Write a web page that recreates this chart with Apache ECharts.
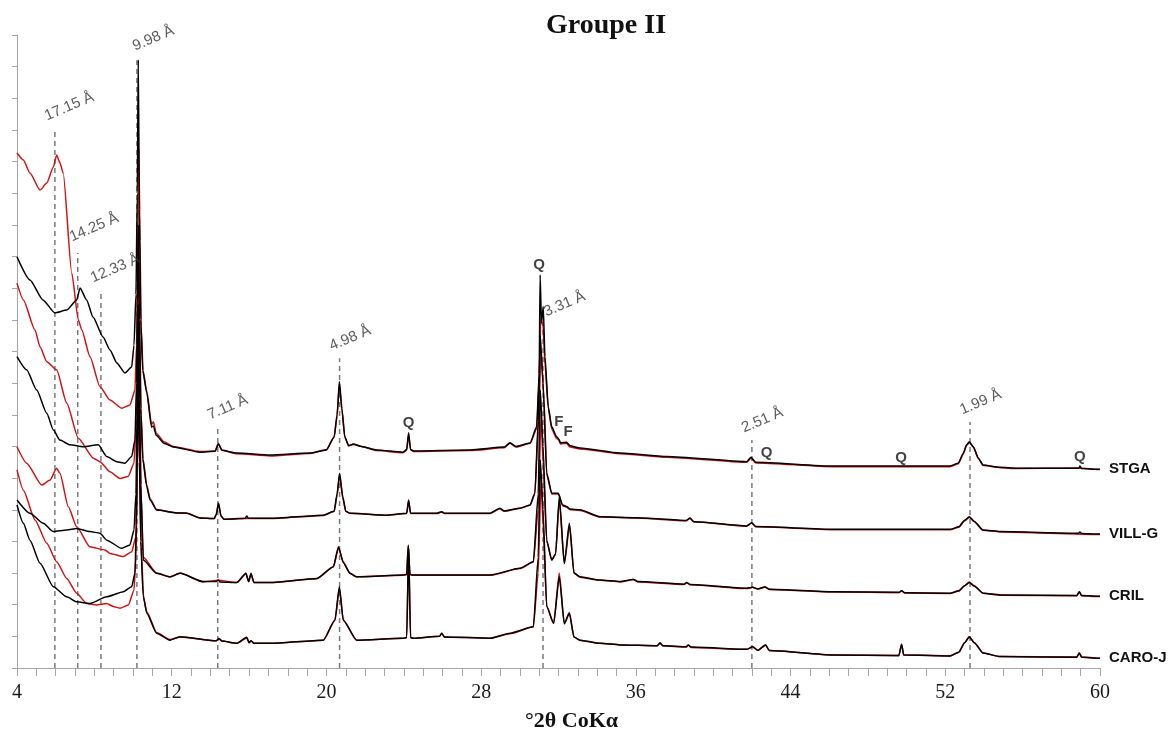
<!DOCTYPE html>
<html><head><meta charset="utf-8">
<script src="https://cdn.jsdelivr.net/npm/echarts/dist/echarts.min.js"></script>
<style>html,body{margin:0;padding:0;background:#fff}#c{width:1173px;height:738px}</style>
</head><body><div id="c"></div>
<script>
// ---- data: [2θ (°, CoKα), intensity (offset, arbitrary units)] ----
const stgaRed = [[4.0,16.27],[4.33,16.05],[4.67,15.64],[5.19,15.10],[5.54,15.32],[5.88,15.83],[6.05,16.21],[6.22,15.96],[6.39,15.63],[6.83,12.48],[7.17,11.0],[7.35,10.68],[7.77,9.84],[8.29,8.89],[8.81,8.47],[9.41,8.21],[9.84,8.31],[10.1,8.78],[10.18,10.2],[10.24,13.0],[10.3,16.4],[10.36,13.5],[10.42,10.8],[10.52,9.4],[10.71,8.75],[10.96,7.7],[11.05,7.78],[11.2,7.42],[11.6,7.15],[12.08,7.0],[13.46,6.84],[14.25,6.86],[14.41,7.1],[14.6,6.88],[15.36,6.77],[17.08,6.7],[19.15,6.78],[20.0,6.9],[20.4,7.3],[20.55,7.95],[20.67,8.95],[20.8,8.15],[20.95,7.3],[21.15,7.03],[21.39,7.06],[21.82,7.0],[22.6,6.87],[23.96,6.8],[24.15,6.88],[24.25,7.38],[24.35,6.9],[24.5,6.84],[27.42,6.87],[29.2,6.96],[29.49,7.1],[29.8,6.98],[30.53,7.1],[30.87,7.55],[31.0,9.0],[31.08,11.06],[31.2,10.8],[31.3,9.6],[31.47,8.2],[31.65,7.55],[31.9,7.25],[32.0,7.22],[32.1,7.08],[32.42,7.1],[32.6,6.98],[33.11,6.92],[35.18,6.77],[37.59,6.66],[41.73,6.5],[41.95,6.63],[42.2,6.48],[46.21,6.36],[52.24,6.36],[52.67,6.45],[52.93,6.76],[53.1,7.03],[53.24,7.12],[53.45,6.98],[53.71,6.62],[53.96,6.4],[54.83,6.33],[55.69,6.3],[58.96,6.32],[59.91,6.27],[60,6.27]];
const stgaBlack = [[4.0,12.99],[4.67,12.26],[5.34,11.63],[5.96,11.22],[6.57,11.31],[7.09,11.63],[7.26,12.01],[7.6,11.63],[7.93,11.09],[8.45,10.46],[8.81,10.05],[9.16,9.64],[9.58,9.32],[9.93,9.51],[10.05,10.2],[10.15,11.8],[10.22,15.0],[10.27,19.21],[10.33,14.5],[10.4,11.0],[10.5,9.4],[10.71,8.69],[10.96,7.61],[11.05,7.65],[11.2,7.35],[11.6,7.1],[12.08,6.98],[13.46,6.82],[14.25,6.85],[14.41,7.08],[14.6,6.88],[15.36,6.79],[17.08,6.73],[19.15,6.79],[20.0,6.89],[20.4,7.3],[20.55,8.0],[20.67,9.05],[20.8,8.2],[20.95,7.3],[21.15,7.02],[21.39,7.08],[21.82,7.0],[22.6,6.89],[23.96,6.82],[24.15,6.9],[24.25,7.43],[24.35,6.9],[24.5,6.86],[27.42,6.89],[29.2,6.98],[29.49,7.12],[29.8,7.0],[30.53,7.11],[30.87,7.62],[31.0,9.3],[31.05,12.42],[31.12,10.9],[31.21,11.42],[31.3,9.84],[31.47,8.26],[31.65,7.62],[31.9,7.31],[32.0,7.25],[32.1,7.12],[32.42,7.13],[32.6,7.02],[33.11,6.95],[35.18,6.79],[37.59,6.68],[41.73,6.52],[41.95,6.66],[42.2,6.5],[46.21,6.38],[52.24,6.38],[52.67,6.47],[52.93,6.78],[53.1,7.05],[53.24,7.15],[53.45,6.99],[53.71,6.63],[53.96,6.41],[54.83,6.34],[55.69,6.31],[58.9,6.31],[58.96,6.38],[59.05,6.3],[59.91,6.28],[60,6.28]];
const villRed = [[4.0,12.16],[4.33,11.63],[4.93,10.68],[5.19,10.15],[5.54,9.68],[6.05,9.42],[6.57,8.37],[7.17,7.26],[7.95,6.63],[8.29,6.52],[8.81,6.2],[9.32,5.99],[9.75,6.05],[10.05,6.47],[10.15,7.5],[10.22,9.5],[10.29,13.2],[10.35,10.5],[10.42,8.0],[10.52,6.6],[10.71,5.78],[10.88,5.35],[11.22,5.01],[12.26,4.9],[12.77,4.9],[13.46,4.74],[14.2,4.72],[14.3,4.85],[14.42,5.18],[14.55,4.8],[14.7,4.7],[15.88,4.72],[17.08,4.72],[19.84,4.82],[20.4,4.95],[20.55,5.45],[20.68,6.1],[20.85,5.35],[21.0,4.95],[21.22,4.89],[23.12,4.83],[24.15,4.88],[24.25,5.28],[24.35,4.88],[25.7,4.88],[25.96,4.93],[26.1,4.88],[28.46,4.88],[28.97,5.03],[29.2,4.95],[30.01,5.05],[30.53,5.14],[30.78,5.5],[30.95,7.5],[31.1,10.0],[31.25,8.5],[31.39,6.1],[31.65,5.5],[31.99,5.5],[32.21,5.13],[32.42,5.08],[32.6,5.0],[33.11,4.98],[34.15,4.77],[36.0,4.74],[38.6,4.65],[38.8,4.72],[39.0,4.62],[41.73,4.48],[41.99,4.58],[42.2,4.46],[46.21,4.37],[52.24,4.37],[52.7,4.45],[53.0,4.65],[53.24,4.76],[53.5,4.62],[53.95,4.35],[54.83,4.3],[59.9,4.22],[60,4.22]];
const villBlack = [[4.0,9.84],[4.5,9.42],[5.02,8.78],[5.54,8.05],[5.88,7.52],[6.22,7.2],[6.74,7.05],[7.43,6.99],[8.2,7.05],[8.64,6.68],[9.16,6.52],[9.58,6.47],[9.93,6.68],[10.1,7.2],[10.18,9.0],[10.23,11.5],[10.27,14.0],[10.33,11.0],[10.4,8.2],[10.5,6.6],[10.71,5.73],[10.88,5.31],[11.22,4.99],[12.26,4.9],[12.77,4.89],[13.46,4.74],[14.2,4.72],[14.3,4.85],[14.42,5.21],[14.55,4.8],[14.7,4.7],[15.8,4.73],[15.88,4.8],[15.96,4.73],[17.08,4.73],[19.84,4.83],[20.4,4.95],[20.55,5.5],[20.68,6.15],[20.85,5.4],[21.0,4.95],[21.22,4.89],[23.12,4.83],[24.15,4.89],[24.25,5.31],[24.35,4.89],[25.7,4.89],[25.96,4.94],[26.1,4.89],[28.46,4.89],[28.97,5.05],[29.2,4.96],[30.01,5.05],[30.53,5.15],[30.78,5.53],[30.95,7.8],[31.06,10.5],[31.2,9.0],[31.39,6.16],[31.65,5.53],[31.99,5.52],[32.21,5.15],[32.42,5.1],[32.6,5.02],[33.11,5.0],[34.15,4.78],[36.0,4.75],[38.6,4.66],[38.8,4.74],[39.0,4.62],[41.73,4.49],[41.99,4.59],[42.2,4.47],[46.21,4.38],[52.24,4.38],[52.7,4.46],[53.0,4.67],[53.24,4.78],[53.5,4.63],[53.95,4.36],[54.83,4.31],[58.9,4.26],[58.96,4.3],[59.05,4.25],[59.9,4.23],[60,4.23]];
const crilRed = [[4.0,6.99],[4.5,6.47],[5.28,5.78],[5.71,5.94],[6.05,6.31],[6.22,6.15],[6.65,5.1],[7.09,4.46],[7.77,3.83],[8.55,3.73],[8.81,3.62],[9.5,3.52],[9.93,3.67],[10.15,4.15],[10.22,6.5],[10.29,11.0],[10.35,8.0],[10.42,5.5],[10.53,3.5],[11.22,3.0],[11.91,2.88],[12.43,3.0],[13.63,2.72],[14.41,2.77],[15.36,2.7],[15.84,2.97],[15.98,2.73],[16.1,2.97],[16.25,2.7],[17.08,2.7],[19.5,2.82],[20.36,3.2],[20.62,3.78],[20.88,3.34],[21.22,2.99],[21.56,2.88],[23.97,2.93],[24.15,2.95],[24.23,3.85],[24.32,2.95],[24.45,2.93],[28.46,2.93],[30.01,3.14],[30.7,3.35],[30.95,5.0],[31.1,8.0],[31.2,6.5],[31.39,4.0],[31.65,3.42],[31.85,3.6],[32.04,5.3],[32.3,3.3],[32.58,4.5],[32.8,3.0],[33.11,2.87],[34.15,2.77],[35.18,2.72],[35.87,2.8],[36.1,2.72],[38.5,2.64],[38.63,2.7],[38.8,2.63],[41.73,2.51],[42.04,2.55],[42.3,2.5],[42.68,2.56],[42.9,2.48],[46.21,2.4],[49.6,2.38],[49.74,2.44],[49.9,2.37],[52.24,2.35],[52.7,2.43],[53.0,2.6],[53.24,2.72],[53.5,2.6],[53.96,2.36],[54.83,2.3],[58.8,2.28],[58.93,2.4],[59.05,2.28],[59.91,2.26],[60,2.26]];
const crilBlack = [[4.0,5.31],[4.67,4.89],[5.36,4.57],[5.88,4.31],[6.57,4.36],[7.09,4.41],[7.77,4.31],[8.29,4.26],[8.64,4.04],[9.41,3.78],[9.84,3.89],[10.05,4.36],[10.15,5.5],[10.21,8.0],[10.27,11.5],[10.33,8.5],[10.4,5.8],[10.53,3.41],[11.22,2.99],[11.91,2.88],[12.43,2.99],[13.63,2.73],[14.3,2.73],[14.41,2.78],[14.5,2.72],[15.36,2.7],[15.84,2.99],[15.98,2.73],[16.1,2.99],[16.25,2.7],[17.08,2.7],[19.5,2.83],[20.36,3.2],[20.62,3.83],[20.88,3.32],[21.22,2.99],[21.56,2.88],[23.97,2.94],[24.15,2.96],[24.23,3.89],[24.32,2.96],[24.45,2.94],[28.46,2.94],[30.01,3.15],[30.7,3.36],[30.95,5.5],[31.06,8.78],[31.2,7.0],[31.39,4.04],[31.65,3.41],[31.85,3.6],[32.04,5.41],[32.3,3.3],[32.56,4.57],[32.8,3.0],[33.11,2.88],[34.15,2.78],[35.18,2.73],[35.87,2.8],[36.1,2.73],[38.5,2.65],[38.63,2.7],[38.8,2.64],[41.73,2.52],[42.04,2.55],[42.3,2.5],[42.68,2.56],[42.9,2.49],[46.21,2.41],[49.6,2.39],[49.74,2.44],[49.9,2.38],[52.24,2.36],[52.7,2.44],[53.0,2.6],[53.24,2.7],[53.5,2.58],[53.96,2.36],[54.83,2.31],[58.8,2.29],[58.93,2.41],[59.05,2.29],[59.91,2.27],[60,2.27]];
const caroRed = [[4.0,6.26],[4.33,5.62],[4.93,4.68],[5.54,3.94],[6.05,3.36],[6.57,2.83],[7.09,2.36],[7.6,2.04],[8.12,1.99],[8.64,2.04],[8.98,1.94],[9.32,1.89],[9.76,1.99],[10.05,2.46],[10.15,3.5],[10.22,6.0],[10.29,9.0],[10.35,6.2],[10.42,3.8],[10.55,2.2],[10.71,1.78],[11.22,1.12],[11.91,0.9],[12.43,0.98],[14.3,0.86],[14.45,0.92],[14.6,0.85],[15.36,0.78],[15.88,0.95],[16.0,0.8],[16.1,0.86],[16.25,0.78],[17.08,0.78],[19.84,0.88],[20.44,1.5],[20.67,2.5],[20.87,1.5],[21.56,0.88],[23.97,0.94],[24.15,0.96],[24.25,3.75],[24.35,0.96],[24.5,0.94],[25.85,1.0],[25.96,1.1],[26.1,0.98],[28.46,0.94],[29.49,1.08],[30.7,1.3],[30.95,3.0],[31.1,6.0],[31.2,4.5],[31.39,1.94],[31.75,1.41],[32.04,3.0],[32.3,1.4],[32.56,1.75],[32.8,0.98],[33.11,0.88],[34.15,0.78],[35.18,0.73],[37.1,0.7],[37.25,0.78],[37.4,0.7],[38.6,0.66],[38.71,0.72],[38.85,0.65],[41.73,0.59],[42.04,0.67],[42.3,0.56],[42.71,0.73],[42.9,0.55],[46.21,0.41],[49.6,0.4],[49.74,0.75],[49.85,0.42],[52.24,0.38],[52.7,0.5],[53.0,0.8],[53.24,0.98],[53.5,0.8],[53.96,0.47],[54.83,0.36],[58.8,0.35],[58.93,0.47],[59.05,0.35],[59.91,0.31],[60,0.31]];
const caroBlack = [[4.0,5.15],[4.33,4.57],[4.67,4.04],[5.19,3.31],[5.88,2.57],[6.57,2.25],[7.09,2.09],[7.77,2.04],[8.64,2.25],[9.5,2.41],[9.93,2.57],[10.1,2.99],[10.17,4.5],[10.22,7.0],[10.27,9.5],[10.33,6.5],[10.4,4.0],[10.52,2.3],[10.71,1.73],[11.22,1.1],[11.91,0.88],[12.43,0.99],[14.3,0.86],[14.45,0.93],[14.6,0.85],[15.36,0.78],[15.88,0.97],[16.0,0.8],[16.1,0.86],[16.25,0.78],[17.08,0.78],[19.84,0.88],[20.44,1.52],[20.67,2.57],[20.87,1.52],[21.56,0.88],[23.97,0.94],[24.15,0.96],[24.25,3.79],[24.35,0.96],[24.5,0.94],[25.85,1.0],[25.96,1.1],[26.1,0.98],[28.46,0.94],[29.49,1.1],[30.7,1.3],[30.95,3.5],[31.06,6.57],[31.2,5.0],[31.39,1.94],[31.75,1.41],[32.04,2.88],[32.3,1.4],[32.56,1.73],[32.8,0.98],[33.11,0.88],[34.15,0.78],[35.18,0.73],[37.1,0.7],[37.25,0.8],[37.4,0.7],[38.6,0.67],[38.71,0.73],[38.85,0.66],[41.73,0.59],[42.04,0.67],[42.3,0.56],[42.71,0.73],[42.9,0.55],[46.21,0.41],[49.6,0.39],[49.74,0.75],[49.85,0.41],[52.24,0.38],[52.7,0.5],[53.0,0.8],[53.24,0.99],[53.5,0.8],[53.96,0.47],[54.83,0.36],[58.8,0.34],[58.93,0.47],[59.05,0.34],[59.91,0.31],[60,0.31]];

const sampleNames = ['STGA', 'VILL-G', 'CRIL', 'CARO-J'];

// d-spacing reference lines
const refX = [5.96, 7.14, 8.34, 10.2, 14.38, 20.68, 31.2, 42.0, 53.28];
const refTop = [17.06, 13.11, 11.94, 19.2, 7.61, 9.79, 10.93, 7.2, 7.77];
const refText = ['17.15 Å', '14.25 Å', '12.33 Å', '9.98 Å', '7.11 Å', '4.98 Å', '3.31 Å', '2.51 Å', '1.99 Å'];

// mineral marks (Q = quartz, F = feldspar)
const markText = ['Q', 'Q', 'F', 'F', 'Q', 'Q', 'Q'];
const markX = [31.0, 24.25, 32.02, 32.5, 42.76, 49.71, 58.96];
const markY = [12.73, 7.75, 7.78, 7.47, 6.8, 6.63, 6.66];

// axis
const xMin = 4, xMax = 60, xStep = 8;
const yMin = 0, yMax = 20, yStep = 1;

const chart = echarts.init(document.getElementById('c'), null, { renderer: 'canvas' });
const axisGray = '#a6a6a6';
const series = [];

refX.forEach((x, i) => {
  series.push({
    type: 'line', data: [[x, 0], [x, refTop[i]]], symbol: 'none', silent: true, z: 1,
    lineStyle: { color: '#7a7a7a', width: 1.5, type: [5, 4] }
  });
});

const reds = [stgaRed, villRed, crilRed, caroRed];
const blacks = [stgaBlack, villBlack, crilBlack, caroBlack];
reds.forEach(d => series.push({
  type: 'line', data: d, symbol: 'none', z: 2, smooth: 0.2, smoothMonotone: 'x',
  lineStyle: { color: '#d01414', width: 1.5 }
}));
blacks.forEach((d, i) => series.push({
  type: 'line', name: sampleNames[i], data: d, symbol: 'none', z: 3, smooth: 0.2, smoothMonotone: 'x',
  lineStyle: { color: '#000', width: 1.5 },
  endLabel: { show: true, formatter: sampleNames[i], distance: 9, fontFamily: 'Liberation Sans', fontWeight: 'bold', fontSize: 15, color: '#111' }
}));

// per-label anchor offsets (px) relative to the top of each dashed line
const labelOffset = (i) => (i === 3 ? [0, -6] : i === 6 ? [5, -2] : i === 1 ? [-4, -8] : [-6, -4]);

series.push({
  type: 'scatter', z: 5, symbolSize: 1, itemStyle: { color: 'rgba(0,0,0,0)' }, silent: true,
  data: refX.map((x, i) => ({
    value: [x, refTop[i]],
    label: { position: labelOffset(i) }
  })),
  label: {
    show: true, formatter: p => refText[p.dataIndex], rotate: 23, align: 'left', verticalAlign: 'bottom',
    fontFamily: 'Liberation Sans', fontSize: 15, color: '#333'
  }
});

series.push({
  type: 'scatter', z: 6, symbolSize: 1, itemStyle: { color: 'rgba(0,0,0,0)' }, silent: true,
  data: markX.map((x, i) => [x, markY[i]]),
  label: {
    show: true, formatter: p => markText[p.dataIndex], position: 'inside', align: 'center', verticalAlign: 'middle',
    fontFamily: 'Liberation Sans', fontWeight: 'bold', fontSize: 15, color: '#111'
  }
});

chart.setOption({
  animation: false,
  backgroundColor: '#fff',
  title: {
    text: 'Groupe II', left: 601, top: 7, textAlign: 'center',
    textStyle: { fontFamily: 'Liberation Serif', fontWeight: 'bold', fontSize: 28, color: '#111' }
  },
  grid: { left: 17, right: 73, top: 35, bottom: 70, containLabel: false },
  xAxis: {
    type: 'value', min: xMin, max: xMax, interval: xStep,
    axisLine: { show: true, onZero: false, lineStyle: { color: axisGray, width: 1 } },
    axisTick: { show: true, length: 8, lineStyle: { color: axisGray } },
    minorTick: { show: true, splitNumber: 8, length: 8, lineStyle: { color: axisGray } },
    splitLine: { show: false }, minorSplitLine: { show: false },
    axisLabel: { color: '#1a1a1a', fontSize: 20, fontFamily: 'Liberation Serif', margin: 15 },
    name: '°2θ CoKα', nameLocation: 'middle', nameGap: 42,
    nameTextStyle: { fontFamily: 'Liberation Serif', fontWeight: 'bold', fontSize: 22, color: '#111', padding: [0, 0, 0, 26] }
  },
  yAxis: {
    type: 'value', min: yMin, max: yMax, interval: yStep,
    axisLine: { show: true, onZero: false, lineStyle: { color: axisGray, width: 1 } },
    axisTick: { show: true, length: 5, lineStyle: { color: axisGray } },
    axisLabel: { show: false }, splitLine: { show: false }
  },
  series: series
});
</script>
</body></html>
